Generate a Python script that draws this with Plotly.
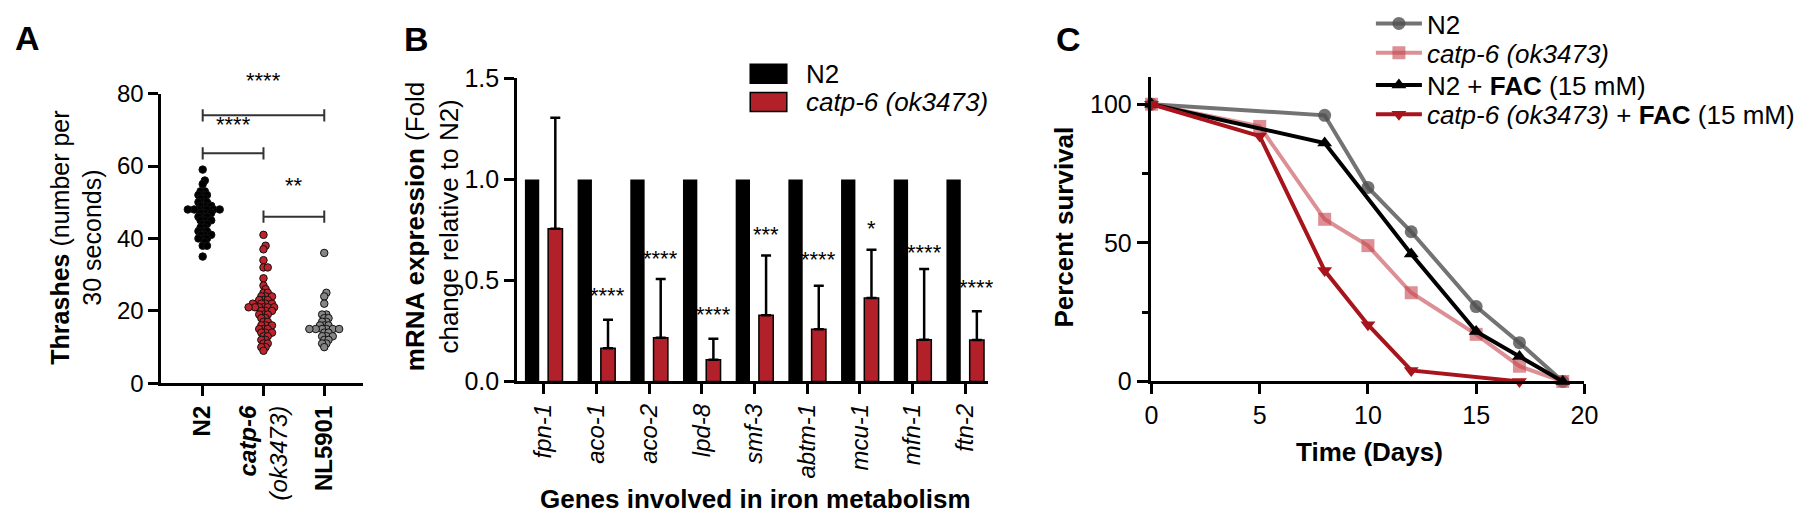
import plotly.graph_objects as go

W, H = 1800, 529
FONT = "Liberation Sans, Arial, Helvetica, sans-serif"

# ---------------- Panel A data (thrashes per 30 s) ----------------
a_groups = ["N2", "catp-6 (ok3473)", "NL5901"]
a_n2 = [59, 56, 55, 53, 53, 52, 52, 52, 51, 51, 50, 50, 50, 49, 49, 49, 48, 48, 48, 48,
        48, 48, 48, 47, 47, 47, 46, 46, 46, 45, 45, 45, 44, 44, 43, 43, 42, 42, 42, 41,
        41, 41, 40, 40, 40, 39, 38, 38, 35]
a_catp6 = [41, 38, 37, 34, 32, 32, 29, 27, 26, 25, 25, 24, 24, 24, 23, 23, 23, 22, 22, 22,
           22, 21, 21, 21, 21, 21, 21, 20, 20, 20, 19, 19, 19, 18, 18, 17, 17, 16, 16, 16,
           15, 15, 15, 14, 14, 14, 13, 13, 12, 12, 11, 11, 10, 10, 9]
a_nl5901 = [36, 25, 24, 22, 19, 19, 18, 18, 17, 17, 16, 16, 16, 15, 15, 15, 15, 15, 15, 14,
            14, 13, 13, 13, 12, 12, 11, 11, 10]
a_colors = ["#000000", "#c0232b", "#858585"]
a_sig_left = [0, 0, 1]
a_sig_right = [2, 1, 2]
a_sig_y = [74, 63.5, 46]
a_sig_text = ["****", "****", "**"]
a_sig_text_y = [83.5, 71.5, 54.5]

# ---------------- Panel B data (mRNA fold change) ----------------
b_genes = ["fpn-1", "aco-1", "aco-2", "lpd-8", "smf-3", "abtm-1", "mcu-1", "mfn-1", "ftn-2"]
b_n2 = [1.0, 1.0, 1.0, 1.0, 1.0, 1.0, 1.0, 1.0, 1.0]
b_catp6 = [0.756, 0.164, 0.216, 0.108, 0.328, 0.258, 0.413, 0.207, 0.205]
b_catp6_err = [0.549, 0.141, 0.291, 0.103, 0.296, 0.216, 0.239, 0.350, 0.142]
b_sig = ["", "****", "****", "****", "***", "****", "*", "****", "****"]
b_sig_y = [0, 0.427, 0.61, 0.333, 0.728, 0.606, 0.756, 0.638, 0.465]

# ---------------- Panel C data (percent survival) ----------------
c_names = ["N2", "<i>catp-6 (ok3473)</i>", "N2 + <b>FAC</b> (15 mM)",
           "<i>catp-6 (ok3473)</i> + <b>FAC</b> (15 mM)"]
c_days_n2 = [0, 8, 10, 12, 15, 17, 19]
c_surv_n2 = [100, 96, 70, 54, 27, 14, 0]
c_days_catp6 = [0, 5, 8, 10, 12, 15, 17, 19]
c_surv_catp6 = [100, 92, 58.5, 49, 32, 17, 5.5, 0]
c_days_n2fac = [0, 8, 12, 15, 17, 19]
c_surv_n2fac = [100, 86, 46, 18, 9, 0]
c_days_catp6fac = [0, 5, 8, 10, 12, 17]
c_surv_catp6fac = [100, 88.5, 40, 20.5, 4, 0]

# ---------------- layout geometry (pixels) ----------------
A_X0, A_X1, A_Y0, A_Y1 = 156, 360, 390, 84
A_RANGE_X = [-0.683, 2.634]
A_RANGE_Y = [0, 80]
B_X0, B_X1, B_Y0, B_Y1 = 516, 993, 388, 68
B_RANGE_X = [-0.507, 8.44]
C_X0, C_X1, C_Y0, C_Y1 = 1158, 1596, 388, 66
C_LEG_ROWS = [10, 41, 75, 106]


def xdom(p0, p1):
    return [p0 / W, p1 / W]


def ydom(pb, pt):
    return [1 - pb / H, 1 - pt / H]


def a_to_paper(xv, yv):
    px = A_X0 + (xv - A_RANGE_X[0]) / (A_RANGE_X[1] - A_RANGE_X[0]) * (A_X1 - A_X0)
    py = A_Y0 - (yv - A_RANGE_Y[0]) / (A_RANGE_Y[1] - A_RANGE_Y[0]) * (A_Y0 - A_Y1)
    return px / W, 1 - py / H


def swarm(vals, px_per_x, px_per_y, d=4.3):
    """Greedy beeswarm layout: x offsets (data units) so dots don't overlap too much."""
    order = sorted(range(len(vals)), key=lambda i: vals[i])
    placed = []
    offs = [0.0] * len(vals)
    step = d / 2.0
    cands = [0.0]
    for m in range(1, 80):
        cands += [m * step, -m * step]
    for i in order:
        y = vals[i] * px_per_y
        for c in cands:
            if all((c - px) ** 2 + (y - py) ** 2 >= d * d for px, py in placed):
                break
        placed.append((c, y))
        offs[i] = c / px_per_x
    return offs


fig = go.Figure()

# ---------- Panel A ----------
a_pxx = (A_X1 - A_X0) / (A_RANGE_X[1] - A_RANGE_X[0])
a_pxy = (A_Y0 - A_Y1) / (A_RANGE_Y[1] - A_RANGE_Y[0])
for gi, vals in enumerate([a_n2, a_catp6, a_nl5901]):
    offs = swarm(vals, a_pxx, a_pxy)
    fig.add_trace(go.Scatter(
        x=[gi + o for o in offs], y=vals, mode="markers", xaxis="x", yaxis="y",
        marker=dict(size=7.5, color=a_colors[gi], line=dict(color="#111", width=1)),
        showlegend=False, cliponaxis=False, hoverinfo="skip"))

for l, r, yb, t, ty in zip(a_sig_left, a_sig_right, a_sig_y, a_sig_text, a_sig_text_y):
    cap = 1.7
    for x0, y0, x1, y1 in [(l, yb, r, yb), (l, yb - cap, l, yb + cap), (r, yb - cap, r, yb + cap)]:
        fig.add_shape(type="line", xref="x", yref="y", x0=x0, y0=y0, x1=x1, y1=y1,
                      line=dict(color="#333", width=2))
    px_, py_ = a_to_paper((l + r) / 2, ty)
    fig.add_annotation(x=px_, y=py_, xref="paper", yref="paper", text=t, showarrow=False,
                       xanchor="center", yanchor="middle",
                       font=dict(family=FONT, size=22, color="black"))

# ---------- Panel B ----------
fig.add_trace(go.Bar(x=list(range(len(b_genes))), y=b_n2, xaxis="x2", yaxis="y2",
                     marker=dict(color="black", line=dict(width=0)), showlegend=False))
fig.add_trace(go.Bar(x=list(range(len(b_genes))), y=b_catp6, xaxis="x2", yaxis="y2",
                     marker=dict(color="#b2202a", line=dict(color="black", width=1.5)),
                     error_y=dict(type="data", array=b_catp6_err,
                                  arrayminus=[0] * len(b_catp6), symmetric=False,
                                  color="black", thickness=2.5, width=5),
                     showlegend=False))
for i, (s, sy) in enumerate(zip(b_sig, b_sig_y)):
    if s:
        fig.add_annotation(x=i + 0.22, y=sy, xref="x2", yref="y2", text=s, showarrow=False,
                           xanchor="center", yanchor="middle",
                           font=dict(family=FONT, size=22, color="black"))

# manual legend for B
for k, (col, lab) in enumerate([("black", "N2"), ("#b2202a", "<i>catp-6 (ok3473)</i>")]):
    yc = 63 + 30 * k
    fig.add_shape(type="rect", xref="paper", yref="paper",
                  x0=752 / W, x1=789 / W, y0=1 - (yc + 10) / H, y1=1 - (yc - 10) / H,
                  fillcolor=col, line=dict(color="black", width=1.5))
    fig.add_annotation(x=806 / W, y=1 - yc / H, xref="paper", yref="paper", text=lab,
                       showarrow=False, xanchor="left", yanchor="middle",
                       font=dict(family=FONT, size=26, color="black"))

# ---------- Panel C ----------
c_series = [
    (c_days_n2, c_surv_n2, "rgba(80,80,80,0.8)", "circle"),
    (c_days_catp6, c_surv_catp6, "rgba(196,70,78,0.6)", "square"),
    (c_days_n2fac, c_surv_n2fac, "#000000", "triangle-up"),
    (c_days_catp6fac, c_surv_catp6fac, "#a8141c", "triangle-down"),
]
leg_ids = ["legend", "legend2", "legend3", "legend4"]
for (dx, sy, col, sym), name, lid in zip(c_series, c_names, leg_ids):
    fig.add_trace(go.Scatter(x=dx, y=sy, mode="lines+markers", name=name,
                             xaxis="x3", yaxis="y3", cliponaxis=False, legend=lid,
                             line=dict(color=col, width=4),
                             marker=dict(symbol=sym, size=13, color=col, line=dict(width=0))))

# ---------- axes ----------
common = dict(showline=True, linewidth=2.5, linecolor="black", ticks="outside",
              ticklen=10, tickwidth=2.5, tickcolor="black", showgrid=False,
              zeroline=False, tickfont=dict(family=FONT, size=24, color="black"))

legends = {}
for lid, row in zip(leg_ids, C_LEG_ROWS):
    legends[lid] = dict(x=1380 / W, y=1 - row / H, xanchor="left", yanchor="middle",
                        font=dict(family=FONT, size=26, color="black"),
                        bgcolor="rgba(0,0,0,0)", itemwidth=46, borderwidth=0)

fig.update_layout(
    width=W, height=H, margin=dict(l=0, r=0, t=0, b=0),
    paper_bgcolor="white", plot_bgcolor="white",
    barmode="group", bargap=0.118, bargroupgap=0.383,
    font=dict(family=FONT, color="black"),
    xaxis=dict(domain=xdom(A_X0, A_X1), range=A_RANGE_X, anchor="y",
               tickvals=[0, 1, 2],
               ticktext=["<b>N2</b>", "<b><i>catp-6</i></b><br><i>(ok3473)</i>", "<b>NL5901</b>"],
               tickangle=-90, **common),
    yaxis=dict(domain=ydom(A_Y0, A_Y1), range=A_RANGE_Y, anchor="x",
               tickvals=[0, 20, 40, 60, 80], **common),
    xaxis2=dict(domain=xdom(B_X0, B_X1), range=B_RANGE_X, anchor="y2",
                tickvals=list(range(len(b_genes))),
                ticktext=["<i>%s</i>" % g for g in b_genes], tickangle=-90, **common),
    yaxis2=dict(domain=ydom(B_Y0, B_Y1), range=[0, 1.5], anchor="x2",
                tickvals=[0, 0.5, 1.0, 1.5], ticktext=["0.0", "0.5", "1.0", "1.5"],
                **{**common, "tickfont": dict(family=FONT, size=25, color="black")}),
    xaxis3=dict(domain=xdom(C_X0, C_X1), range=[0, 20], anchor="y3",
                tickvals=[0, 5, 10, 15, 20],
                **{**common, "tickfont": dict(family=FONT, size=25, color="black")}),
    yaxis3=dict(domain=ydom(C_Y0, C_Y1), range=[0, 110], anchor="x3",
                tickvals=[0, 50, 100],
                minor=dict(tickvals=[25, 75], ticks="outside", ticklen=7, tickwidth=2.5,
                           tickcolor="black", showgrid=False),
                **{**common, "ticklen": 12,
                   "tickfont": dict(family=FONT, size=25, color="black")}),
    **legends,
)

# ---------- titles and panel letters ----------
ann = [
    ("<b>A</b>", 21, 25, 0, 34),
    ("<b>B</b>", 414, 26, 0, 34),
    ("<b>C</b>", 1074, 26, 0, 34),
    ("<b>Thrashes</b> (number per<br>30 seconds)", 70, 236, -90, 25),
    ("<b>mRNA expression</b> (Fold<br>change relative to N2)", 430, 224, -90, 26),
    ("<b>Percent survival</b>", 1070, 225, -90, 26),
    ("<b>Genes involved in iron metabolism</b>", 757, 512, 0, 26),
    ("<b>Time (Days)</b>", 1379, 462, 0, 26),
]
for t, x, y, ang, sz in ann:
    fig.add_annotation(x=x / W, y=1 - y / H, xref="paper", yref="paper", text=t,
                       showarrow=False, textangle=ang, xanchor="center", yanchor="middle",
                       font=dict(family=FONT, size=sz, color="black"))

fig.write_html("out.html", config={"displayModeBar": False},
               post_script="document.body.style.margin='0';")
